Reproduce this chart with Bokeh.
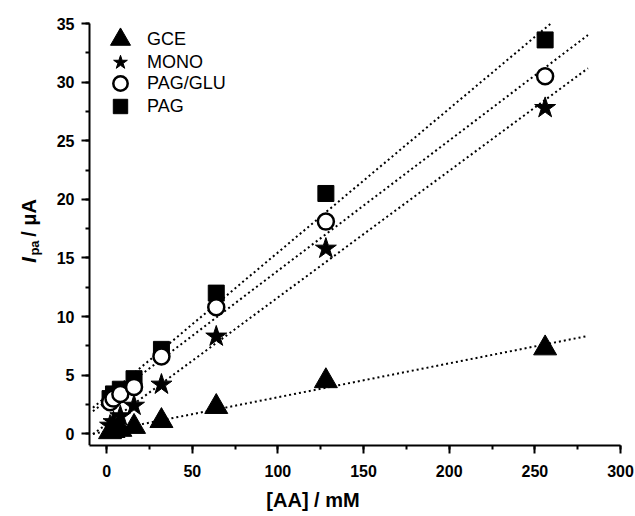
import numpy as np
from bokeh.plotting import figure
from bokeh.models import Range1d, SingleIntervalTicker, Label, Legend, LegendItem, LinearAxis
from bokeh.embed import file_html
from bokeh.resources import INLINE

# ---- data ----
conc = [2, 4, 8, 16, 32, 64, 128, 256]          # [AA] / mM
gce = [0.15, 0.25, 0.35, 0.6, 1.1, 2.3, 4.5, 7.3]
mono = [0.7, 1.0, 1.5, 2.4, 4.2, 8.3, 15.8, 27.8]
pag_glu = [2.7, 3.0, 3.4, 4.0, 6.6, 10.8, 18.1, 30.5]
pag = [3.0, 3.4, 3.8, 4.7, 7.2, 12.0, 20.5, 33.6]
series_names = ["GCE", "MONO", "PAG/GLU", "PAG"]
fit_extent = [-8, 281]   # x extent of the linear-fit lines
x_axis_span = (-10, 300)
y_axis_span = (-1, 35)
x_tick_step = 50
y_tick_step = 5

FONT = "Liberation Sans"

# layout: the axis box spans screen x 89..620, y 23..445; the frame is widened
# to the left and top so the y-title and top tick label are not clipped
AXIS_LEFT, FRAME_LEFT, FRAME_RIGHT = 89, 5, 620
AXIS_TOP, FRAME_TOP, FRAME_BOTTOM = 23, 5, 445
px_per_x = (FRAME_RIGHT - AXIS_LEFT) / (x_axis_span[1] - x_axis_span[0])
px_per_y = (FRAME_BOTTOM - AXIS_TOP) / (y_axis_span[1] - y_axis_span[0])
x_start = x_axis_span[0] - (AXIS_LEFT - FRAME_LEFT) / px_per_x
y_end = y_axis_span[1] + (AXIS_TOP - FRAME_TOP) / px_per_y

p = figure(width=635, height=516, output_backend="svg", toolbar_location=None,
           x_range=Range1d(x_start, x_axis_span[1]), y_range=Range1d(y_axis_span[0], y_end),
           y_axis_location=None,
           min_border_left=FRAME_LEFT, min_border_right=635 - FRAME_RIGHT,
           min_border_top=FRAME_TOP, min_border_bottom=516 - FRAME_BOTTOM)
p.grid.visible = False
p.outline_line_color = None
p.background_fill_color = "white"
p.border_fill_color = "white"

yaxis = LinearAxis(fixed_location=x_axis_span[0], bounds=y_axis_span)
p.add_layout(yaxis, "left")

# fit lines (least squares, computed from the data), stopped at the axis top
for ys in [pag, pag_glu, mono, gce]:
    k, b = np.polyfit(conc, ys, 1)
    x0 = fit_extent[0]
    x1 = min(fit_extent[1], (y_axis_span[1] - b) / k)
    fx = np.array([x0, x1])
    p.line(fx, k * fx + b, line_color="black", line_width=2, line_dash="2 3")

r_pag = p.scatter(conc, pag, marker="square", size=16, fill_color="black", line_color="black")
r_glu = p.scatter(conc, pag_glu, marker="circle", size=16, fill_color="white", line_color="black", line_width=2.5)
r_mono = p.scatter(conc, mono, marker="star", size=22, fill_color="black", line_color="black")
r_gce = p.scatter(conc, gce, marker="triangle", size=23, fill_color="black", line_color="black")

# legend: one legend per entry so the rows can sit closer than the symbol boxes
sym_cx = 120 - FRAME_LEFT
text_x = 147 - FRAME_LEFT
entries = [(series_names[0], r_gce, 50, 381), (series_names[1], r_mono, 36, 365),
           (series_names[2], r_glu, 36, 344), (series_names[3], r_pag, 36, 321)]
for name, rend, box, vy in entries:
    vx = sym_cx - box // 2
    lg = Legend(items=[LegendItem(label=name, renderers=[rend])],
                location=(vx, vy), margin=0, padding=0, spacing=0,
                glyph_width=box, glyph_height=box, label_standoff=text_x - vx - box,
                label_text_font=FONT, label_text_font_size="18px",
                label_text_color="black",
                border_line_color=None, background_fill_alpha=0)
    p.add_layout(lg)

# axes
p.xaxis.ticker = SingleIntervalTicker(interval=x_tick_step, num_minor_ticks=2)
p.xaxis.bounds = x_axis_span
yaxis.ticker = SingleIntervalTicker(interval=y_tick_step, num_minor_ticks=2)
for ax in [p.xaxis[0], yaxis]:
    ax.axis_line_width = 2
    ax.axis_line_color = "black"
    ax.major_tick_line_width = 2
    ax.minor_tick_line_width = 2
    ax.major_tick_line_color = "black"
    ax.minor_tick_line_color = "black"
    ax.major_tick_in = 0
    ax.major_tick_out = 8
    ax.minor_tick_in = 0
    ax.minor_tick_out = 4
    ax.major_label_text_font = FONT
    ax.major_label_text_font_style = "bold"
    ax.major_label_text_font_size = "16px"
    ax.major_label_text_color = "black"

p.xaxis.major_label_standoff = 11
yaxis.major_label_standoff = 7
p.xaxis.axis_label = "[AA] / mM"
p.xaxis.axis_label_text_font = FONT
p.xaxis.axis_label_text_font_style = "bold"
p.xaxis.axis_label_text_font_size = "20px"
p.xaxis.axis_label_text_color = "black"
p.xaxis.axis_label_standoff = 9

# y-axis title: I_pa / μA (pieces for italic + subscript), placed left of the axis
title_x = -45.6
p.add_layout(Label(x=title_x, y=14.6, text="I",
                   angle=90, angle_units="deg", text_font=FONT, text_font_style="bold italic",
                   text_font_size="20px", text_baseline="alphabetic", text_align="left",
                   text_color="black"))
p.add_layout(Label(x=title_x, y=15.2, x_offset=6, text="pa",
                   angle=90, angle_units="deg", text_font=FONT, text_font_style="bold",
                   text_font_size="13px", text_baseline="alphabetic", text_align="left",
                   text_color="black"))
p.add_layout(Label(x=title_x, y=16.8, text="/ μA",
                   angle=90, angle_units="deg", text_font=FONT, text_font_style="bold",
                   text_font_size="20px", text_baseline="alphabetic", text_align="left",
                   text_color="black"))

open("out.html", "w").write(file_html(p, INLINE))
